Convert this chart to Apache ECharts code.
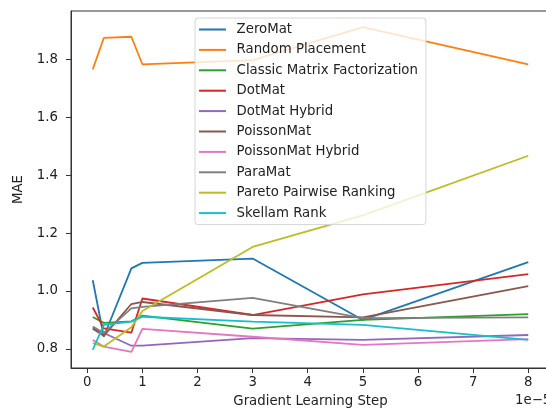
<!DOCTYPE html>
<html>
<head>
<meta charset="utf-8">
<script src="https://cdn.jsdelivr.net/npm/echarts@6/dist/echarts.min.js"></script>
<style>
html,body{margin:0;padding:0;background:#fff;overflow:hidden;}
#chart{width:546px;height:410px;}
</style>
</head>
<body>
<div id="chart"></div>
<script>
// Gradient learning step (x 1e-5)
var steps = [0.1, 0.3, 0.8, 1, 3, 5, 8];
var seriesNames = ["ZeroMat", "Random Placement", "Classic Matrix Factorization", "DotMat", "DotMat Hybrid", "PoissonMat", "PoissonMat Hybrid", "ParaMat", "Pareto Pairwise Ranking", "Skellam Rank"];
var zeroMat      = [1.037, 0.842, 1.078, 1.097, 1.112, 0.900, 1.100];
var randomPlace  = [1.766, 1.874, 1.878, 1.783, 1.797, 1.911, 1.783];
var classicMF    = [0.910, 0.890, 0.895, 0.915, 0.870, 0.900, 0.920];
var dotMat       = [0.943, 0.871, 0.856, 0.974, 0.917, 0.988, 1.058];
var dotMatHybrid = [0.871, 0.855, 0.811, 0.811, 0.837, 0.831, 0.848];
var poissonMat   = [0.870, 0.845, 0.955, 0.962, 0.917, 0.909, 1.017];
var poissonHyb   = [0.831, 0.808, 0.790, 0.869, 0.842, 0.814, 0.834];
var paraMat      = [0.877, 0.855, 0.940, 0.945, 0.976, 0.906, 0.909];
var paretoPR     = [0.820, 0.808, 0.875, 0.931, 1.152, 1.261, 1.467];
var skellam      = [0.797, 0.883, 0.894, 0.911, 0.894, 0.883, 0.831];
var xTicks = [0, 1, 2, 3, 4, 5, 6, 7, 8];
var yTicks = [0.8, 1.0, 1.2, 1.4, 1.6, 1.8];

var allValues = [zeroMat, randomPlace, classicMF, dotMat, dotMatHybrid, poissonMat, poissonHyb, paraMat, paretoPR, skellam];
var colors = ['#1f77b4', '#ff7f0e', '#2ca02c', '#d62728', '#9467bd', '#8c564b', '#e377c2', '#7f7f7f', '#bcbd22', '#17becf'];
var font = 'DejaVu Sans';
var fs = 13.3;

var chart = echarts.init(document.getElementById('chart'), null, {renderer: 'canvas'});
var series = seriesNames.map(function (name, i) {
  return {
    name: name,
    type: 'line',
    showSymbol: false,
    symbol: 'none',
    animation: false,
    lineStyle: {width: 1.8, color: colors[i]},
    itemStyle: {color: colors[i]},
    data: steps.map(function (s, j) { return [s, allValues[i][j]]; })
  };
});

chart.setOption({
  animation: false,
  color: colors,
  grid: {left: 71, top: 11, width: 479, height: 357, outerBoundsMode: 'none', containLabel: false,
    show: true, borderColor: '#333', borderWidth: 1, backgroundColor: 'transparent'},
  legend: {
    orient: 'vertical',
    left: 195,
    top: 18,
    icon: 'rect',
    itemWidth: 27,
    itemHeight: 2,
    itemGap: 5.4,
    padding: [4, 8, 4, 4],
    borderColor: '#d6d6d6',
    borderWidth: 1,
    borderRadius: 3,
    backgroundColor: 'rgba(255,255,255,0.8)',
    textStyle: {fontFamily: font, fontSize: fs, color: '#222', lineHeight: 15, padding: [0, 0, 0, 5.6]},
    data: seriesNames
  },
  xAxis: {
    type: 'value',
    min: -0.295,
    max: 8.395,
    name: 'Gradient Learning Step',
    nameLocation: 'middle',
    nameGap: 27,
    nameTextStyle: {fontFamily: font, fontSize: fs, color: '#222'},
    axisLine: {show: true, onZero: false, lineStyle: {color: '#333'}},
    axisTick: {show: true, inside: false, length: 5, customValues: xTicks, lineStyle: {color: '#333'}},
    axisLabel: {customValues: xTicks, margin: 8, fontFamily: font, fontSize: fs, color: '#222'},
    splitLine: {show: false}
  },
  yAxis: {
    type: 'value',
    min: 0.734,
    max: 1.967,
    name: 'MAE',
    nameLocation: 'middle',
    nameRotate: 90,
    nameGap: 46,
    nameTextStyle: {fontFamily: font, fontSize: fs, color: '#222'},
    axisLine: {show: true, onZero: false, lineStyle: {color: '#333'}},
    axisTick: {show: true, inside: false, length: 5, customValues: yTicks, lineStyle: {color: '#333'}},
    axisLabel: {customValues: yTicks, margin: 13, fontFamily: font, fontSize: fs, color: '#222',
      formatter: function (v) { return v.toFixed(1); }},
    splitLine: {show: false}
  },
  graphic: [{
    type: 'text',
    left: 515,
    top: 394,
    style: {text: '1e\u22125', font: fs + 'px "DejaVu Sans"', fill: '#222'}
  }],
  series: series
});
</script>
</body>
</html>
